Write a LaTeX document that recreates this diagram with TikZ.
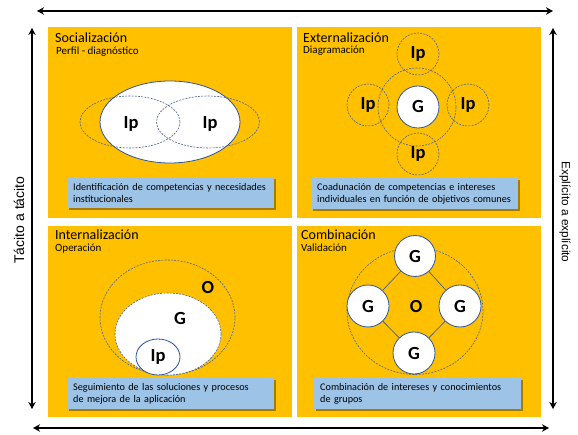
\documentclass[tikz,border=0pt]{standalone}
\usepackage{fontspec}
\setmainfont{Carlito}
\newfontfamily\sidefont{Liberation Sans}
\usetikzlibrary{shapes.geometric,shadows,arrows.meta}
\definecolor{panelY}{HTML}{FFC000}
\definecolor{boxB}{HTML}{9DC3E6}
\definecolor{lineB}{HTML}{2F5597}
\definecolor{dashB}{HTML}{4A6394}
\begin{document}
\begin{tikzpicture}[x=1pt,y=-1pt,
  panel/.style={fill=panelY,draw=none,inner sep=0pt,anchor=north west,minimum width=244pt,minimum height=191pt},
  ttl/.style={anchor=base west,inner sep=0pt,font=\fontsize{14}{16}\selectfont},
  subttl/.style={anchor=base west,inner sep=0pt,font=\fontsize{11}{12}\selectfont},
  bluebox/.style={fill=boxB,draw=none,drop shadow={shadow xshift=1.6pt,shadow yshift=-1.8pt,opacity=0.35,fill=black},
    align=left,font=\fontsize{10.2}{12.2}\selectfont,inner xsep=6pt,inner ysep=0pt,anchor=north west,minimum height=31pt,text width=195pt},
  big/.style={font=\bfseries\fontsize{18.5}{20}\selectfont,inner sep=0pt},
  dashc/.style={draw=dashB,dash pattern=on 2pt off 1.2pt,line width=0.6pt,inner sep=0pt},
  solidc/.style={draw=lineB,line width=0.8pt,fill=white,inner sep=0pt},
  conn/.style={draw=lineB,line width=0.6pt},
  dblarrow/.style={line width=2.6pt,{Stealth[length=7pt,width=7.5pt]}-{Stealth[length=7pt,width=7.5pt]}},
  side/.style={font=\sidefont,inner sep=0pt}
]
\useasboundingbox (0,0) rectangle (578,435);
% arrows
\coordinate (hTl) at (37,11);
\coordinate (hTr) at (553,11);
\coordinate (hBl) at (33,428);
\coordinate (hBr) at (549,428);
\coordinate (vLt) at (32,28);
\coordinate (vLb) at (32,409);
\coordinate (vRt) at (553,28);
\coordinate (vRb) at (553,409);
\draw[dblarrow] (hTl) -- (hTr);
\draw[dblarrow] (hBl) -- (hBr);
\draw[dblarrow] (vLt) -- (vLb);
\draw[dblarrow] (vRt) -- (vRb);
\node[side,rotate=90,font=\sidefont\fontsize{14}{16}\selectfont] (sL) at (19,220) {Tácito a tácito};
\node[side,rotate=-90,font=\sidefont\fontsize{11.8}{14}\selectfont] (sR) at (565,212) {Explícito a explícito};
% panels
\node[panel] (pTL) at (48,27) {};
\node[panel] (pTR) at (297,27) {};
\node[panel] (pBL) at (48,226) {};
\node[panel] (pBR) at (297,226) {};
% titles
\node[ttl] (t1) at (55,43) {Socialización};
\node[subttl] (s1) at (56,55) {Perfil - diagnóstico};
\node[ttl] (t2) at (303,43) {Externalización};
\node[subttl] (s2) at (303,54) {Diagramación};
\node[ttl] (t3) at (55,240) {Internalización};
\node[subttl] (s3) at (55,252) {Operación};
\node[ttl] (t4) at (301,240) {Combinación};
\node[subttl] (s4) at (301,252) {Validación};
% TL socializacion
\node[ellipse,solidc,minimum width=140pt,minimum height=82pt] (eW) at (170,122) {};
\node[ellipse,dashc,minimum width=100pt,minimum height=52pt] (eL) at (130,122) {};
\node[ellipse,dashc,minimum width=103pt,minimum height=52pt] (eR) at (208,122) {};
\node[big] (ipL) at (131,124) {Ip};
\node[big] (ipR) at (210,124) {Ip};
\node[bluebox] (b1) at (67,177) {Identificación de competencias y necesidades\\institucionales};
% TR externalizacion
\node[circle,dashc,minimum size=78pt] (bigC) at (417,107) {};
\node[circle,solidc,minimum size=42pt,big] (gC) at (418,107) {G};
\node[circle,dashc,minimum size=42pt,big] (ipT) at (418,54) {Ip};
\node[circle,dashc,minimum size=42pt,big] (ipB) at (418,154) {Ip};
\node[circle,dashc,minimum size=42pt,big] (ipW) at (368,105) {Ip};
\node[circle,dashc,minimum size=42pt,big] (ipE) at (468,105) {Ip};
\node[bluebox] (b2) at (311,178) {Coadunación de competencias e intereses\\individuales en función de objetivos comunes};
% BL internalizacion
\node[ellipse,dashc,minimum width=135pt,minimum height=115pt] (oE) at (167.5,317.5) {};
\node[ellipse,dashc,fill=white,minimum width=106pt,minimum height=82pt] (gE) at (168,334) {};
\node[ellipse,solidc,minimum width=44pt,minimum height=36pt,big] (ipI) at (158,357) {Ip};
\node[big] (oL) at (208,287) {O};
\node[big] (gL) at (180,318) {G};
\node[bluebox] (b3) at (67,378) {Seguimiento de las soluciones y procesos\\de mejora de la aplicación};
% BR combinacion
\node[ellipse,dashc,minimum width=136pt,minimum height=127pt] (bigO) at (415,311) {};
\node[circle,solidc,minimum size=41pt,big] (gT) at (415,256) {G};
\node[circle,solidc,minimum size=42pt,big] (gW) at (368,306) {G};
\node[circle,solidc,minimum size=42pt,big] (gEa) at (460,306) {G};
\node[circle,solidc,minimum size=42pt,big] (gB) at (414,353) {G};
\node[big] (oC) at (416,306) {O};
\draw[conn] (gT) -- (gW);
\draw[conn] (gT) -- (gEa);
\draw[conn] (gB) -- (gW);
\draw[conn] (gB) -- (gEa);
\node[bluebox] (b4) at (314,378) {Combinación de intereses y conocimientos\\de grupos};
\end{tikzpicture}
\end{document}
